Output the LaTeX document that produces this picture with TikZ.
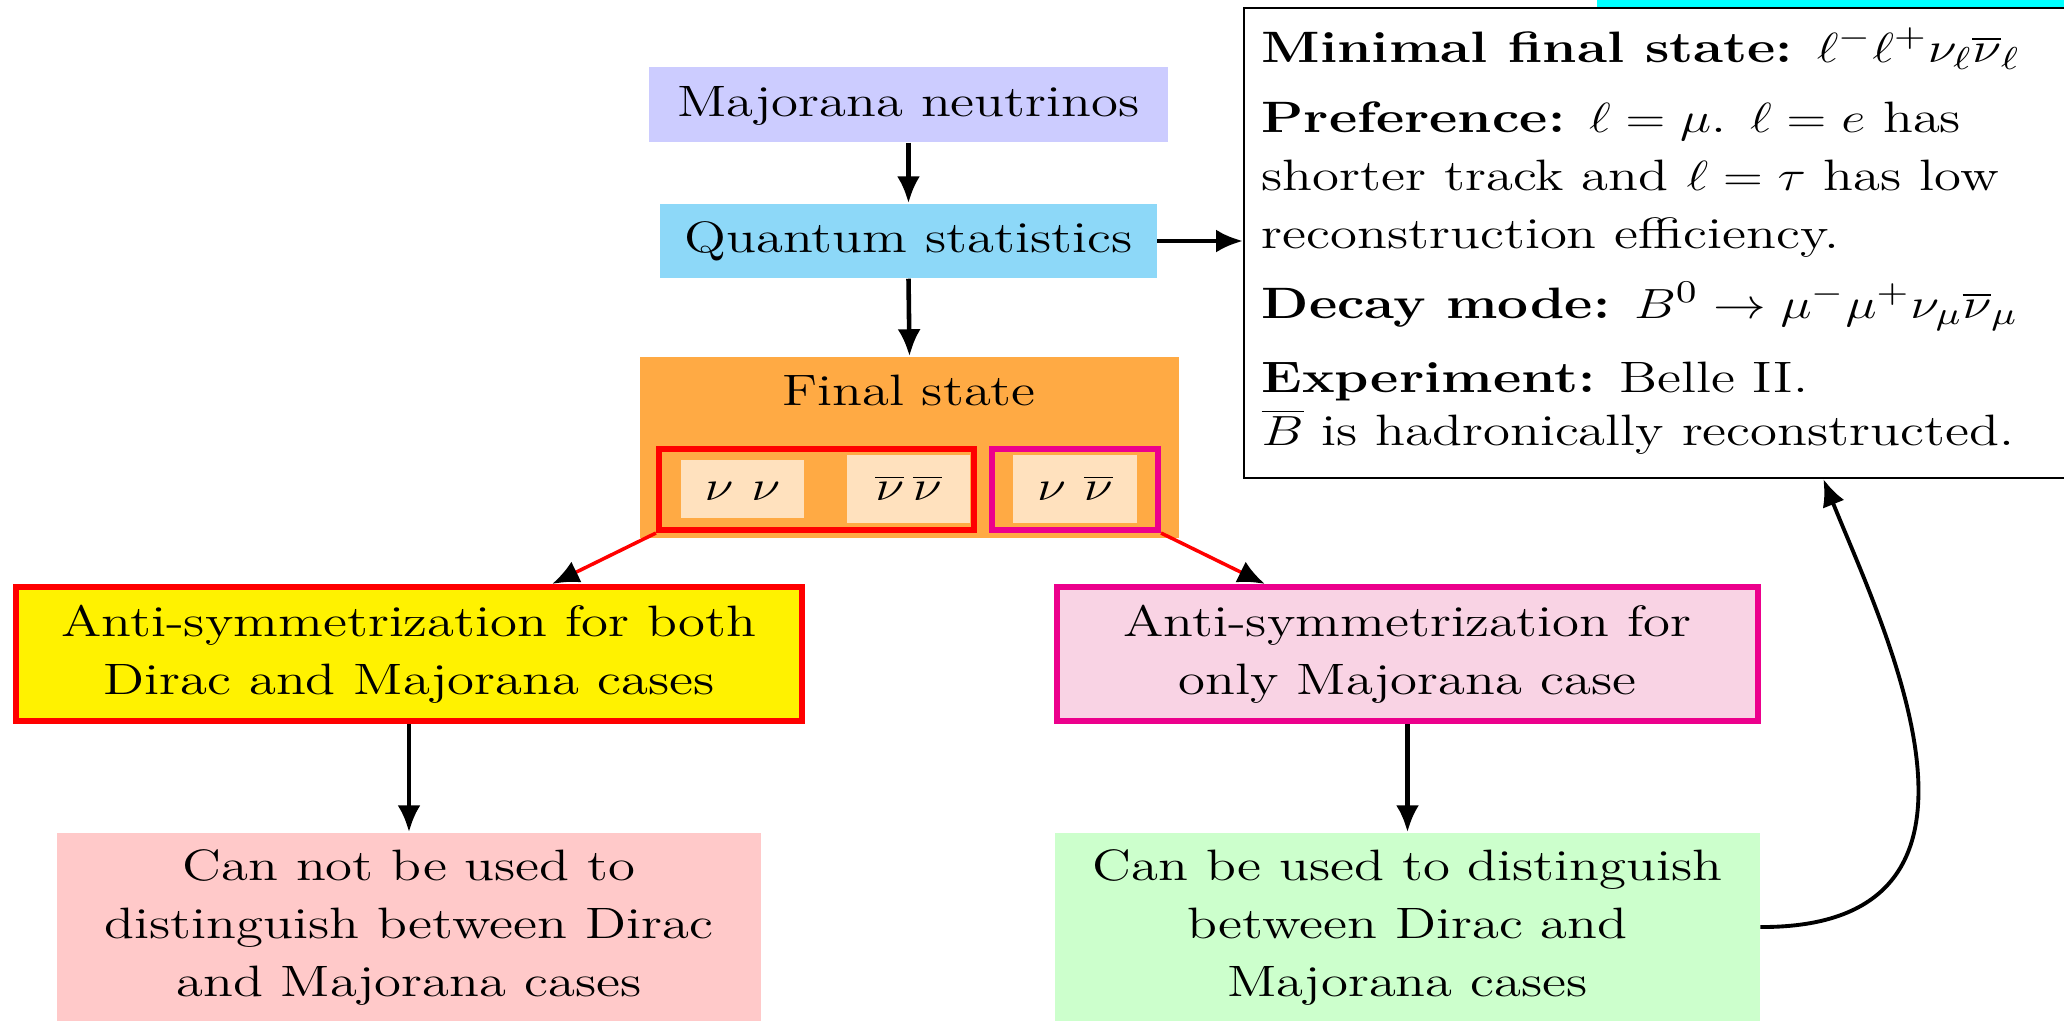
\documentclass[tikz,border=0pt]{standalone}
\usepackage{graphicx}
\usetikzlibrary{arrows.meta}
\definecolor{cLav}{HTML}{CCCCFF}
\definecolor{cSky}{HTML}{8DD8F8}
\definecolor{cOra}{HTML}{FFAA44}
\definecolor{cPea}{HTML}{FFE1BE}
\definecolor{cRed}{HTML}{FF0000}
\definecolor{cMag}{HTML}{EC008C}
\definecolor{cYel}{HTML}{FFF200}
\definecolor{cPnk}{HTML}{F9D3E4}
\definecolor{cSal}{HTML}{FFC9C9}
\definecolor{cGrn}{HTML}{CCFFCC}
\definecolor{cCya}{HTML}{00FFFF}
\newcommand{\bx}[1]{\scalebox{1.25}[1]{\begin{tabular}{@{}c@{}}#1\end{tabular}}}
\newcommand{\sline}[1]{\scalebox{1.25}[1]{#1}}
\begin{document}
\begin{tikzpicture}[x=0.01cm, y=-0.01cm, font=\fontsize{12.5}{16.5}\selectfont,
  box/.style={rectangle, inner sep=0pt, text=black},
  arr/.style={-{Latex[length=0.27cm,width=0.23cm]}, line width=1.3pt},
  redarr/.style={draw=cRed, line width=1pt, -{Latex[length=0.27cm,width=0.23cm,color=black]}},
  iline/.style={anchor=base west, inner sep=0pt}]
\useasboundingbox (0,0) rectangle (2064,1020);
% top flow
\node[box, fill=cLav, minimum width=5.19cm, minimum height=0.75cm] (maj) at (908.5,104.5) {\bx{Majorana neutrinos}};
\node[box, fill=cSky, minimum width=4.96cm, minimum height=0.74cm] (qs) at (908.5,241) {\bx{Quantum statistics}};
\node[box, fill=cOra, minimum width=5.39cm, minimum height=1.81cm] (fs) at (909.5,447.5) {};
\node[anchor=base, inner sep=0pt] (fst) at (909,405) {\sline{Final state}};
\node[box, fill=cPea, minimum width=1.23cm, minimum height=0.54cm] (p1) at (742.5,489) {\bx{$\nu\ \nu$}};
\node[box, fill=cPea, minimum width=1.23cm, minimum height=0.68cm] (p2) at (908.5,489) {\bx{$\overline{\nu}\,\overline{\nu}$}};
\node[box, fill=cPea, minimum width=1.24cm, minimum height=0.68cm] (p3) at (1075,489) {\bx{$\nu\ \overline{\nu}$}};
\node[draw=cRed, line width=0.06cm, minimum width=3.15cm, minimum height=0.81cm, inner sep=0pt] (g1) at (816.5,489.5) {};
\node[draw=cMag, line width=0.06cm, minimum width=1.66cm, minimum height=0.81cm, inner sep=0pt] (g2) at (1075,489.5) {};
% lower boxes
\node[box, draw=cRed, line width=0.06cm, fill=cYel, minimum width=7.86cm, minimum height=1.34cm] (yel) at (409,654) {\bx{Anti-symmetrization for both\\Dirac and Majorana cases}};
\node[box, draw=cMag, line width=0.06cm, fill=cPnk, minimum width=7.01cm, minimum height=1.34cm] (pnk) at (1407.5,654) {\bx{Anti-symmetrization for\\only Majorana case}};
\node[box, fill=cSal, minimum width=7.04cm, minimum height=1.88cm] (sal) at (409,927) {\bx{Can not be used to\\distinguish between Dirac\\and Majorana cases}};
\node[box, fill=cGrn, minimum width=7.04cm, minimum height=1.88cm] (grn) at (1407.5,927) {\bx{Can be used to distinguish\\between Dirac and\\Majorana cases}};
% info box
\node[draw=black, line width=0.5pt, fill=white, minimum width=9cm, minimum height=4.70cm, anchor=north west, inner sep=0pt] (info) at (1243,7) {};
\fill[cCya] (1597,0) rectangle (2064,6.5);
\node[iline] (i1) at (1261,62) {\sline{\textbf{Minimal final state:} $\ell^-\ell^+\nu_\ell\overline{\nu}_\ell$}};
\node[iline] (i2) at (1261,132) {\sline{\textbf{Preference:} $\ell=\mu$. $\ell=e$ has}};
\node[iline] (i3) at (1261,190) {\sline{shorter track and $\ell=\tau$ has low}};
\node[iline] (i4) at (1261,248) {\sline{reconstruction efficiency.}};
\node[iline] (i5) at (1261,318) {\sline{\textbf{Decay mode:} $B^0\to\mu^-\mu^+\nu_\mu\overline{\nu}_\mu$}};
\node[iline] (i6) at (1261,392) {\sline{\textbf{Experiment:} Belle II.}};
\node[iline] (i7) at (1261,445) {\sline{$\overline{B}$ is hadronically reconstructed.}};
% connectors
\draw[arr] (maj.south) -- (qs.north);
\draw[arr] (qs.south) -- (fs.north);
\draw[arr] (qs.east) -- (qs.east -| info.west);
\draw[arr] (yel.south) -- (sal.north);
\draw[arr] (pnk.south) -- (grn.north);
\draw[redarr] (g1.south west) -- ([xshift=5.39cm]yel.north west);
\draw[redarr] (g2.south east) -- ([xshift=2.11cm]pnk.north west);
\draw[-{Latex[length=0.27cm,width=0.23cm]}, line width=1.1pt] (grn.east) .. controls (2031,928) and (1883,627) .. ([xshift=5.80cm]info.south west);
\end{tikzpicture}
\end{document}
